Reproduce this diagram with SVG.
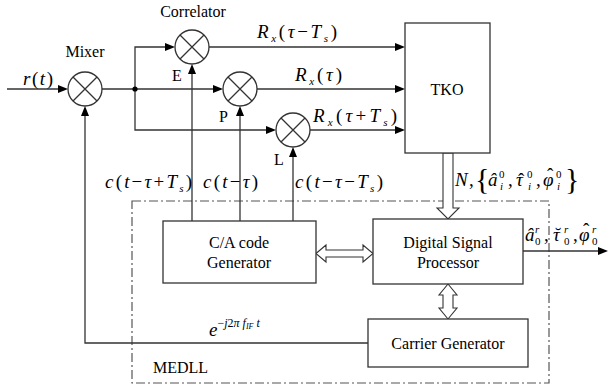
<svg xmlns="http://www.w3.org/2000/svg" width="609" height="388" viewBox="0 0 609 388">
<defs>
<style>
.ln{fill:none;stroke:#333;stroke-width:1.3}
.bx{fill:#fff;stroke:#333;stroke-width:1.3}
.ha{fill:#fff;stroke:#333;stroke-width:1.1}
.ah{fill:#000;stroke:none}
.dd{fill:none;stroke:#555;stroke-width:1.2;stroke-dasharray:9 3 2 3}
.t{font-size:16px;fill:#000}
.m{font-size:19px;fill:#000}
.i{font-style:italic}
.sb{font-size:11px;font-style:italic}
.sn{font-size:11px;font-style:normal}
</style>
</defs>
<rect width="609" height="388" fill="#fff"/>

<g id="medll">
<rect class="dd" x="132" y="201" width="417" height="182"/>
<text class="t" font-family="Liberation Serif, serif" x="153" y="373">MEDLL</text>
</g>

<g id="connectors">
<line class="ln" x1="7" y1="89" x2="60" y2="89"/>
<polygon class="ah" points="58,85 68,89 58,93"/>
<line class="ln" x1="102" y1="89" x2="215" y2="89"/>
<polygon class="ah" points="213,85 223,89 213,93"/>
<path class="ln" d="M135,89 V47 H167"/>
<polygon class="ah" points="165,43 175,47 165,51"/>
<path class="ln" d="M135,89 V130 H268"/>
<polygon class="ah" points="266,126 276,130 266,134"/>
<line class="ln" x1="209" y1="47" x2="397" y2="47"/>
<polygon class="ah" points="395,43 405,47 395,51"/>
<line class="ln" x1="257" y1="89" x2="397" y2="89"/>
<polygon class="ah" points="395,85 405,89 395,93"/>
<line class="ln" x1="310" y1="130" x2="397" y2="130"/>
<polygon class="ah" points="395,126 405,130 395,134"/>
<line class="ln" x1="192" y1="221" x2="192" y2="72"/>
<polygon class="ah" points="188,74 192,64 196,74"/>
<line class="ln" x1="240" y1="221" x2="240" y2="114"/>
<polygon class="ah" points="236,116 240,106 244,116"/>
<line class="ln" x1="293" y1="221" x2="293" y2="155"/>
<polygon class="ah" points="289,157 293,147 297,157"/>
<path class="ln" d="M368,343 H85 V114"/>
<polygon class="ah" points="81,116 85,106 89,116"/>
<line class="ln" x1="523" y1="251" x2="600" y2="251"/>
<polygon class="ah" points="598,247 608,251 598,255"/>
<circle cx="135" cy="89" r="2.6" fill="#000"/>
<polygon class="ha" points="443,153 453,153 453,208 459,208 448,219 437,208 443,208"/>
<polygon class="ha" points="316,253.5 326,245 326,250 363,250 363,245 373,253.5 363,262 363,257 326,257 326,262"/>
<polygon class="ha" points="448,284 457,295 453,295 453,308 457,308 448,319 439,308 443,308 443,295 439,295"/>
</g>

<g id="mixer">
<circle class="bx" cx="85" cy="89" r="17"/>
<path class="ln" d="M73,77 L97,101 M97,77 L73,101"/>
<text class="t" font-family="Liberation Serif, serif" x="85" y="57" text-anchor="middle">Mixer</text>
</g>

<g id="corrE">
<circle class="bx" cx="192" cy="47" r="17"/>
<path class="ln" d="M180,35 L204,59 M204,35 L180,59"/>
<text class="t" font-family="Liberation Serif, serif" x="193" y="17" text-anchor="middle">Correlator</text>
<text class="t" font-family="Liberation Serif, serif" x="172" y="81" font-size="15">E</text>
</g>

<g id="corrP">
<circle class="bx" cx="240" cy="89" r="17"/>
<path class="ln" d="M228,77 L252,101 M252,77 L228,101"/>
<text class="t" font-family="Liberation Serif, serif" x="219" y="122" font-size="15">P</text>
</g>

<g id="corrL">
<circle class="bx" cx="293" cy="130" r="17"/>
<path class="ln" d="M281,118 L305,142 M305,118 L281,142"/>
<text class="t" font-family="Liberation Serif, serif" x="274" y="165" font-size="15">L</text>
</g>

<g id="tko">
<rect class="bx" x="405" y="23" width="85" height="130"/>
<text class="t" font-family="Liberation Serif, serif" x="447" y="95" text-anchor="middle">TKO</text>
</g>

<g id="ca">
<rect class="bx" x="163" y="221" width="153" height="62"/>
<text class="t" font-family="Liberation Serif, serif" x="239" y="248" text-anchor="middle">C/A code</text>
<text class="t" font-family="Liberation Serif, serif" x="239" y="268" text-anchor="middle">Generator</text>
</g>

<g id="dsp">
<rect class="bx" x="373" y="219" width="150" height="65"/>
<text class="t" font-family="Liberation Serif, serif" x="448" y="248" text-anchor="middle">Digital Signal</text>
<text class="t" font-family="Liberation Serif, serif" x="448" y="268" text-anchor="middle">Processor</text>
</g>

<g id="carrier">
<rect class="bx" x="368" y="319" width="160" height="48"/>
<text class="t" font-family="Liberation Serif, serif" x="448" y="349" text-anchor="middle">Carrier Generator</text>
</g>

<g id="labels">
<text class="m" font-family="Liberation Serif, serif" x="23" y="85" textLength="30" lengthAdjust="spacing"><tspan class="i">r</tspan>(<tspan class="i">t</tspan>)</text>
<text class="m" font-family="Liberation Serif, serif" x="257" y="38" textLength="80" lengthAdjust="spacing"><tspan class="i">R</tspan><tspan class="sb" baseline-shift="-4">x</tspan>(<tspan class="i">τ</tspan>−<tspan class="i">T</tspan><tspan class="sb" baseline-shift="-4">s</tspan>)</text>
<text class="m" font-family="Liberation Serif, serif" x="295" y="81" textLength="47" lengthAdjust="spacing"><tspan class="i">R</tspan><tspan class="sb" baseline-shift="-4">x</tspan>(<tspan class="i">τ</tspan>)</text>
<text class="m" font-family="Liberation Serif, serif" x="313" y="122" textLength="84" lengthAdjust="spacing"><tspan class="i">R</tspan><tspan class="sb" baseline-shift="-4">x</tspan>(<tspan class="i">τ</tspan>+<tspan class="i">T</tspan><tspan class="sb" baseline-shift="-4">s</tspan>)</text>
<text class="m" font-family="Liberation Serif, serif" x="105" y="188" font-size="18" textLength="87" lengthAdjust="spacing"><tspan class="i">c</tspan>(<tspan class="i">t</tspan>−<tspan class="i">τ</tspan>+<tspan class="i">T</tspan><tspan class="sb" baseline-shift="-4">s</tspan>)</text>
<text class="m" font-family="Liberation Serif, serif" x="203" y="188" font-size="18" textLength="55" lengthAdjust="spacing"><tspan class="i">c</tspan>(<tspan class="i">t</tspan>−<tspan class="i">τ</tspan>)</text>
<text class="m" font-family="Liberation Serif, serif" x="295" y="188" font-size="18" textLength="88" lengthAdjust="spacing"><tspan class="i">c</tspan>(<tspan class="i">t</tspan>−<tspan class="i">τ</tspan>−<tspan class="i">T</tspan><tspan class="sb" baseline-shift="-4">s</tspan>)</text>
<text class="m" font-family="Liberation Serif, serif" y="186"><tspan class="i" x="455">N</tspan><tspan x="469">,</tspan><tspan x="475" font-size="30" baseline-shift="-3">{</tspan><tspan class="i" x="488">â</tspan><tspan class="sn" x="499" baseline-shift="8">0</tspan><tspan class="sb" x="500" baseline-shift="-4">i</tspan><tspan x="508">,</tspan><tspan class="i" x="516">τ</tspan><tspan x="518">ˆ</tspan><tspan class="sn" x="527" baseline-shift="8">0</tspan><tspan class="sb" x="528" baseline-shift="-4">i</tspan><tspan x="536">,</tspan><tspan class="i" x="543">φ</tspan><tspan x="547" baseline-shift="5">ˆ</tspan><tspan class="sn" x="556" baseline-shift="8">0</tspan><tspan class="sb" x="557" baseline-shift="-4">i</tspan><tspan x="565" font-size="30" baseline-shift="-3">}</tspan></text>
<text class="m" font-family="Liberation Serif, serif" y="241"><tspan class="i" x="525">â</tspan><tspan class="sb" x="535" baseline-shift="8">r</tspan><tspan class="sn" x="535" baseline-shift="-4">0</tspan><tspan x="544">,</tspan><tspan class="i" x="553">τ</tspan><tspan x="555">˘</tspan><tspan class="sb" x="564" baseline-shift="8">r</tspan><tspan class="sn" x="564" baseline-shift="-4">0</tspan><tspan x="573">,</tspan><tspan class="i" x="579">φ</tspan><tspan x="583" baseline-shift="5">ˆ</tspan><tspan class="sb" x="592" baseline-shift="8">r</tspan><tspan class="sn" x="592" baseline-shift="-4">0</tspan></text>
<text class="m" font-family="Liberation Serif, serif" x="209" y="336"><tspan class="i">e</tspan><tspan font-size="12" baseline-shift="9">−<tspan class="i">j</tspan>2<tspan class="i">π</tspan> <tspan class="i">f</tspan><tspan font-size="8" font-style="italic" baseline-shift="-2">IF</tspan> <tspan class="i">t</tspan></tspan></text>
</g>
</svg>
